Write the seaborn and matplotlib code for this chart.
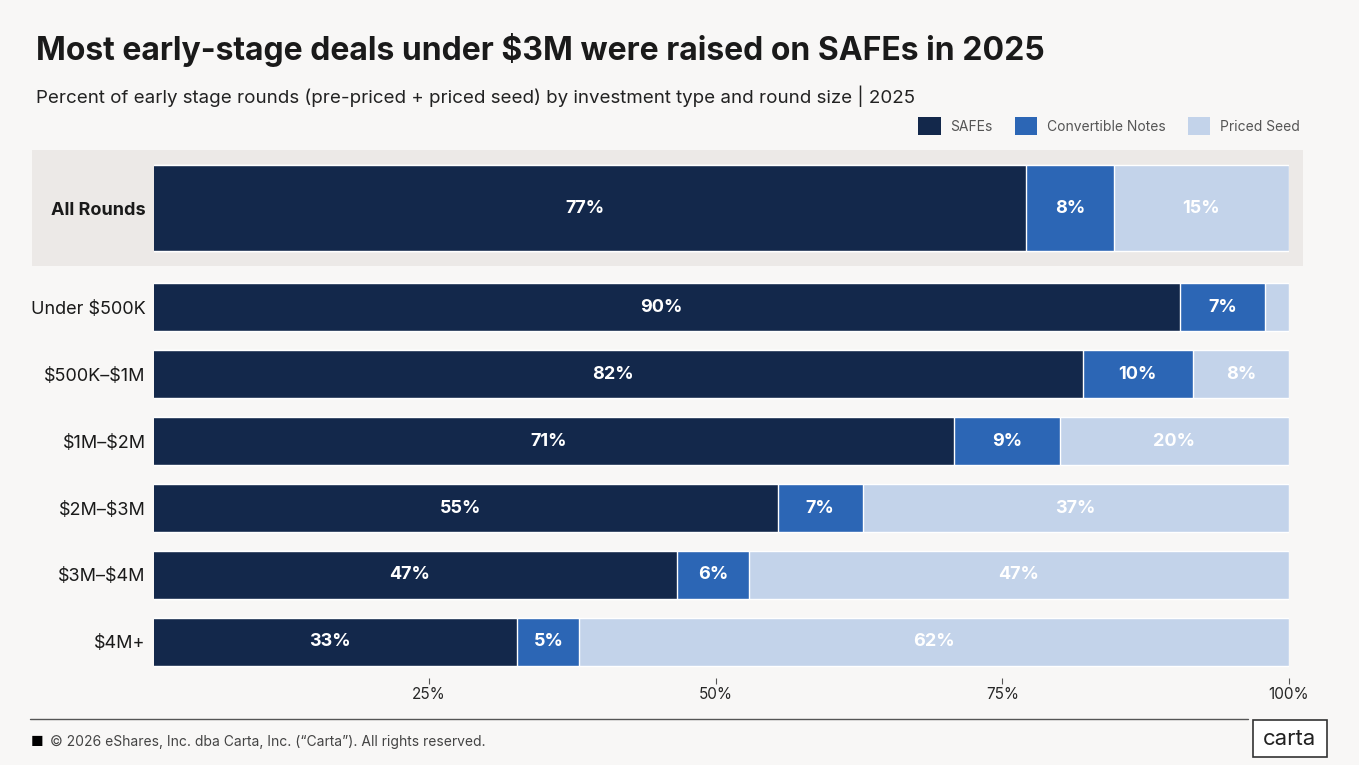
import numpy as np
import pandas as pd
import matplotlib
matplotlib.use("Agg")
import matplotlib.pyplot as plt
import seaborn as sns
from matplotlib.patches import Patch, Rectangle, FancyBboxPatch
from matplotlib.lines import Line2D

rounds = ["All Rounds", "Under $500K", "$500K–$1M", "$1M–$2M", "$2M–$3M", "$3M–$4M", "$4M+"]
# shares (labels show them rounded)
safes = [77.1, 90.5, 82.0, 70.8, 55.4, 46.6, 32.7]
convertible = [7.6, 7.4, 9.6, 9.2, 7.4, 6.3, 5.4]
priced = [15.3, 2.1, 8.4, 20.0, 37.2, 47.1, 61.9]
series = ["SAFEs", "Convertible Notes", "Priced Seed"]
xticks = [25, 50, 75, 100]

colors = {"SAFEs": "#13284b", "Convertible Notes": "#2c66b5", "Priced Seed": "#c3d3ea"}
bg = "#f8f7f6"

sns.set_theme(style="white")
plt.rcParams["font.family"] = ["Inter", "DejaVu Sans"]
plt.rcParams["text.parse_math"] = False

# y positions: summary row sits apart from the size buckets
ypos = [-1.48, 0, 1, 2, 3, 4, 5]

safes_a = np.array(safes)
conv_end = safes_a + np.array(convertible)
total = conv_end + np.array(priced)

rows = []
for i, r in enumerate(rounds):
    rows.append({"round": r, "pos": ypos[i], "type": "Priced Seed", "end": total[i]})
    rows.append({"round": r, "pos": ypos[i], "type": "Convertible Notes", "end": conv_end[i]})
    rows.append({"round": r, "pos": ypos[i], "type": "SAFEs", "end": safes_a[i]})
df = pd.DataFrame(rows)
hue_order = ["Priced Seed", "Convertible Notes", "SAFEs"]

fig = plt.figure(figsize=(13.59, 7.65), dpi=100, facecolor=bg)
ax = fig.add_axes([154 / 1359, 1 - 668 / 765, (1289 - 154) / 1359, (668 - 150) / 765])
ax.set_facecolor("none")

# highlight band behind the summary row
fig.add_artist(Rectangle((32 / 1359, 1 - 266 / 765), (1303 - 32) / 1359, 116 / 765,
                         transform=fig.transFigure, facecolor="#ece9e7", edgecolor="none", zorder=0))

summary = df[df["round"] == "All Rounds"]
buckets = df[df["round"] != "All Rounds"]
sns.barplot(data=buckets, x="end", y="pos", hue="type", hue_order=hue_order, palette=colors,
            orient="y", native_scale=True, dodge=False, width=0.72, legend=False, saturation=1,
            edgecolor="white", linewidth=1, ax=ax)
sns.barplot(data=summary, x="end", y="pos", hue="type", hue_order=hue_order, palette=colors,
            orient="y", native_scale=True, dodge=False, width=1.28, legend=False, saturation=1,
            edgecolor="white", linewidth=1, ax=ax)

ax.set_xlim(1, 100)
ax.set_ylim(5.39, -2.35)

# segment labels
for i in range(len(rounds)):
    starts = [0, safes_a[i], conv_end[i]]
    vals = [safes[i], convertible[i], priced[i]]
    for s, v in zip(starts, vals):
        if v >= 4:
            ax.text(s + v / 2, ypos[i], f"{v:.0f}%", ha="center", va="center",
                    color="white", fontsize=13, fontweight="bold")

ax.set_yticks(ypos)
ax.set_yticklabels(rounds, fontsize=13, color="#1a1a1a")
ax.get_yticklabels()[0].set_fontweight("bold")
ax.tick_params(axis="y", length=0, pad=6)
ax.set_xticks(xticks)
ax.set_xticklabels([f"{t}%" for t in xticks], fontsize=10, color="#555555")
ax.tick_params(axis="x", length=4, width=0.8, color="#555555", pad=3, bottom=True)
ax.set_xlabel("")
ax.set_ylabel("")
for side in ["top", "right", "left"]:
    ax.spines[side].set_visible(False)
ax.spines["bottom"].set_position(("outward", 7))
ax.spines["bottom"].set_color("none")

fig.text(36 / 1359, 1 - 50 / 765, "Most early-stage deals under $3M were raised on SAFEs in 2025",
         fontsize=23, fontweight="bold", color="#1a1a1a", va="center", ha="left")
fig.text(36 / 1359, 1 - 96 / 765,
         "Percent of early stage rounds (pre-priced + priced seed) by investment type and round size | 2025",
         fontsize=13.5, color="#222222", va="center", ha="left")

handles = [Patch(facecolor=colors[s], edgecolor="none", label=s) for s in series]
leg = fig.legend(handles=handles, loc="center right", bbox_to_anchor=(1312 / 1359, 1 - 126 / 765),
                 ncol=3, frameon=False, fontsize=10, handlelength=1.6, handleheight=1.6,
                 columnspacing=1.6, handletextpad=0.7)
for t in leg.get_texts():
    t.set_color("#555555")

# footer
fig.add_artist(Line2D([30 / 1359, 1248 / 1359], [1 - 719 / 765, 1 - 719 / 765],
                      transform=fig.transFigure, color="#555555", linewidth=1))
fig.text(31 / 1359, 1 - 742 / 765, "■", fontsize=10, color="black", va="center", ha="left")
fig.text(50 / 1359, 1 - 742 / 765, "© 2026 eShares, Inc. dba Carta, Inc. (“Carta”). All rights reserved.",
         fontsize=10, color="#444444", va="center", ha="left")
fig.add_artist(FancyBboxPatch((1253 / 1359, 1 - 757 / 765), 74 / 1359, 37 / 765,
                              boxstyle="square,pad=0", transform=fig.transFigure,
                              facecolor="white", edgecolor="#333333", linewidth=1.2))
fig.text(1290 / 1359, 1 - 739 / 765, "carta", fontsize=16, color="#222222", va="center", ha="center")

fig.savefig("out.png", dpi=100, facecolor=bg)
